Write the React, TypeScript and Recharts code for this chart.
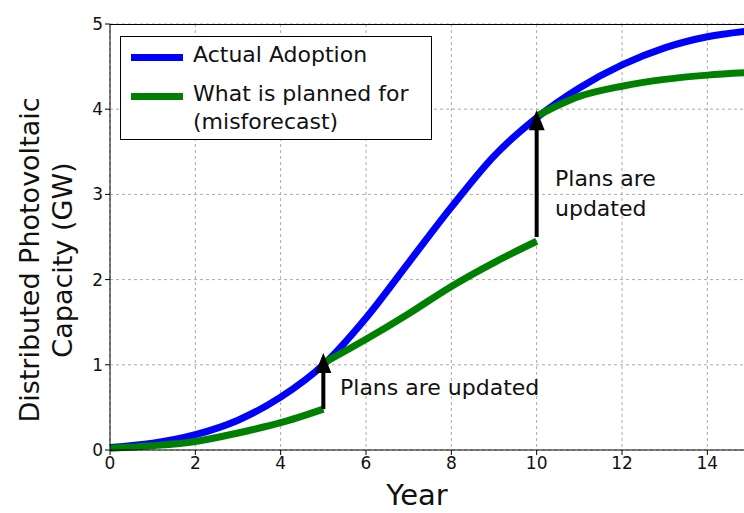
import { CartesianGrid, Line, LineChart, XAxis, YAxis } from "recharts";

const years = [0, 1, 2, 3, 4, 5, 6, 7, 8, 9, 10, 11, 12, 13, 14, 15];
const actual = [0.03, 0.08, 0.18, 0.35, 0.62, 1.0, 1.55, 2.2, 2.85, 3.45, 3.9, 4.25, 4.52, 4.72, 4.85, 4.92];
const planA = [0.02, 0.05, 0.1, 0.2, 0.32, 0.48];
const planB = [1.02, 1.3, 1.6, 1.92, 2.2, 2.45];
const planC = [3.92, 4.15, 4.27, 4.35, 4.4, 4.43];
const arrow1 = [0.48, 0.95];
const arrow2 = [2.5, 3.8];
const xTicks = [0, 2, 4, 6, 8, 10, 12, 14];
const yTicks = [0, 1, 2, 3, 4, 5];

const actualData = years.map((x, i) => ({ x, y: actual[i] }));
const planAData = planA.map((y, i) => ({ x: i, y }));
const planBData = planB.map((y, i) => ({ x: 5 + i, y }));
const planCData = planC.map((y, i) => ({ x: 10 + i, y }));
const arrow1Data = arrow1.map((y) => ({ x: 5, y }));
const arrow2Data = arrow2.map((y) => ({ x: 10, y }));

const font = "'DejaVu Sans', sans-serif";

function ArrowHead(props: any) {
  const { cx, cy, index, points } = props;
  if (index !== points.length - 1) return <g key={index} />;
  return <path key={index} d={`M${cx - 8},${cy + 4} L${cx},${cy - 16} L${cx + 8},${cy + 4} Z`} fill="black" />;
}

export default function App() {
  return (
    <div style={{ position: "absolute", left: 0, top: 0, width: 744, height: 513, overflow: "hidden", background: "white", fontFamily: font }}>
      <LineChart width={751} height={513} margin={{ top: 24, right: 1, left: 0, bottom: 0 }}>
        <CartesianGrid stroke="#aaa" strokeDasharray="3 3" />
        <XAxis
          dataKey="x"
          type="number"
          domain={[0, 15]}
          ticks={xTicks}
          allowDuplicatedCategory={false}
          height={63}
          tick={{ fill: "#111", fontSize: 17, fontFamily: font }}
          stroke="black"
          tickSize={5}
        />
        <YAxis
          dataKey="y"
          type="number"
          domain={[0, 5]}
          ticks={yTicks}
          width={110}
          tick={{ fill: "#111", fontSize: 17, fontFamily: font }}
          stroke="black"
          tickSize={5}
        />
        <Line data={actualData} type="monotone" dataKey="y" stroke="#0000ff" strokeWidth={7} dot={false} isAnimationActive={false} />
        <Line data={planAData} type="monotone" dataKey="y" stroke="#008000" strokeWidth={7} dot={false} isAnimationActive={false} />
        <Line data={planBData} type="monotone" dataKey="y" stroke="#008000" strokeWidth={7} dot={false} isAnimationActive={false} />
        <Line data={planCData} type="monotone" dataKey="y" stroke="#008000" strokeWidth={7} dot={false} isAnimationActive={false} />
        <Line data={arrow1Data} dataKey="y" stroke="black" strokeWidth={4} dot={ArrowHead} isAnimationActive={false} />
        <Line data={arrow2Data} dataKey="y" stroke="black" strokeWidth={4} dot={ArrowHead} isAnimationActive={false} />
      </LineChart>
      <div style={{ position: "absolute", left: 110, top: 24, width: 640, height: 426, borderTop: "1px solid black", boxSizing: "border-box", pointerEvents: "none" }} />
      <div style={{ position: "absolute", left: 120, top: 36, width: 310, height: 102, border: "1px solid black", background: "white", fontSize: 22, color: "#111" }}>
        <div style={{ position: "absolute", left: 10, top: 17, width: 52, height: 7, background: "#0000ff" }} />
        <div style={{ position: "absolute", left: 72, top: 5 }}>Actual Adoption</div>
        <div style={{ position: "absolute", left: 10, top: 56, width: 52, height: 7, background: "#008000" }} />
        <div style={{ position: "absolute", left: 72, top: 43, lineHeight: "28px" }}>What is planned for<br />(misforecast)</div>
      </div>
      <div style={{ position: "absolute", left: 340, top: 375, fontSize: 22, color: "#111" }}>Plans are updated</div>
      <div style={{ position: "absolute", left: 555, top: 164, fontSize: 22, color: "#111", lineHeight: "30px" }}>Plans are<br />updated</div>
      <div style={{ position: "absolute", left: 0, top: 478, width: 744, paddingLeft: 110, boxSizing: "border-box", textAlign: "center", fontSize: 29, color: "#111" }}>
        <span style={{ marginLeft: -20 }}>Year</span>
      </div>
      <div style={{ position: "absolute", left: 46, top: 260, width: 0, height: 0 }}>
        <div style={{ position: "absolute", transform: "translate(-50%,-50%) rotate(-90deg)", whiteSpace: "nowrap", textAlign: "center", fontSize: 27, lineHeight: "33px", color: "#111" }}>
          Distributed Photovoltaic<br />Capacity (GW)
        </div>
      </div>
    </div>
  );
}
